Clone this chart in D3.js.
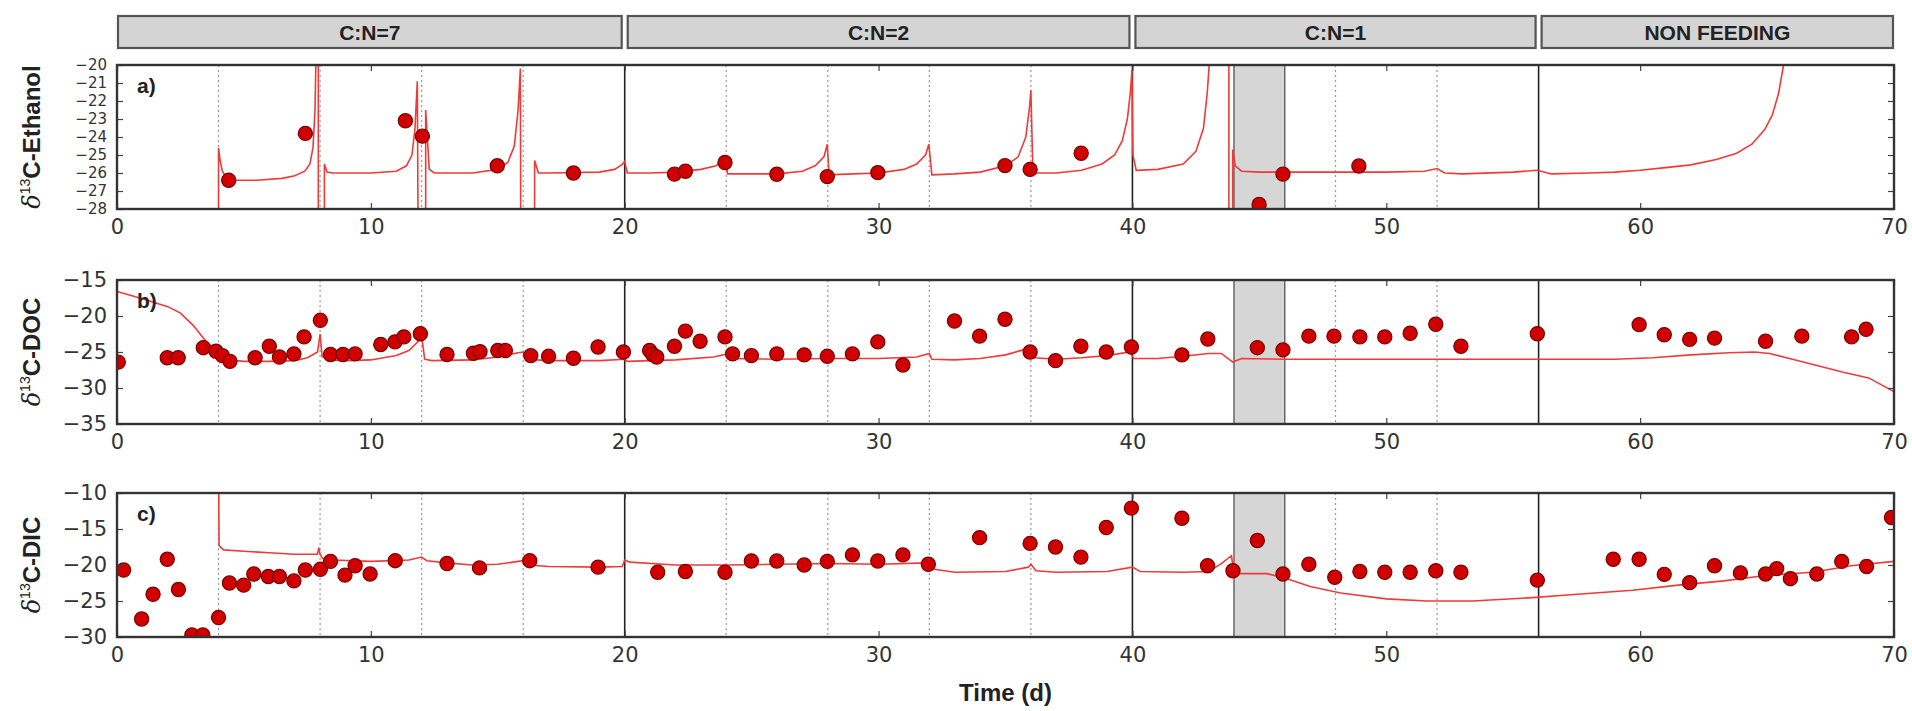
<!DOCTYPE html>
<html><head><meta charset="utf-8">
<script src="https://cdn.jsdelivr.net/npm/d3@7"></script>
<style>body{margin:0;background:#fff}</style>
</head><body><svg id="chart" width="1912" height="711"></svg>
<script>
// ---------------- data ----------------
const xTicks = [0, 10, 20, 30, 40, 50, 60, 70];
const phaseNames = ["C:N=7", "C:N=2", "C:N=1", "NON FEEDING"];
const phaseStarts = [0, 20, 40, 56];
const phaseEnds = [20, 40, 56, 70];
const phaseDividers = [20, 40, 56];
const feedingDays = [4, 8, 12, 16, 24, 28, 32, 36, 48, 52];
const shadeSpan = [44, 46];

const ethanolTicks = [-20, -21, -22, -23, -24, -25, -26, -27, -28];
const docTicks = [-15, -20, -25, -30, -35];
const dicTicks = [-10, -15, -20, -25, -30];

const ethanolObs = [[4.4,-26.4],[7.42,-23.8],[11.36,-23.1],[12.03,-23.95],[14.98,-25.6],[17.98,-26.0],
  [21.96,-26.06],[22.39,-25.9],[23.95,-25.42],[25.99,-26.07],[27.98,-26.2],[29.97,-25.98],[34.98,-25.59],
  [35.97,-25.8],[37.98,-24.9],[44.99,-27.75],[45.93,-26.06],[48.92,-25.61]];

const docObs = [[0.05,-26.4],[1.98,-25.8],[2.41,-25.8],[3.4,-24.4],[3.9,-24.9],[4.15,-25.5],[4.45,-26.3],
  [5.44,-25.8],[6.0,-24.2],[6.4,-25.7],[6.97,-25.26],[7.37,-22.9],[8.01,-20.6],[8.41,-25.35],[8.9,-25.35],
  [9.38,-25.26],[10.39,-23.95],[10.95,-23.6],[11.3,-22.9],[11.95,-22.46],[13.0,-25.35],[14.04,-25.17],
  [14.3,-24.95],[15.0,-24.8],[15.3,-24.8],[16.3,-25.5],[17.0,-25.6],[17.98,-25.86],[18.95,-24.3],[19.95,-25.0],
  [20.98,-24.8],[21.1,-25.35],[21.26,-25.7],[21.96,-24.2],[22.39,-22.1],[22.97,-23.5],[23.95,-22.9],
  [24.25,-25.26],[24.99,-25.5],[25.99,-25.26],[27.07,-25.4],[27.98,-25.6],[28.97,-25.26],[29.97,-23.6],
  [30.96,-26.8],[32.99,-20.7],[33.98,-22.8],[34.98,-20.45],[35.97,-25.0],[36.97,-26.2],[37.97,-24.2],
  [38.97,-25.0],[39.96,-24.3],[41.95,-25.4],[42.97,-23.2],[44.92,-24.4],[45.93,-24.7],[46.95,-22.8],
  [47.94,-22.8],[48.96,-22.9],[49.94,-22.9],[50.94,-22.4],[51.95,-21.15],[52.94,-24.2],[55.95,-22.46],
  [59.96,-21.2],[60.95,-22.6],[61.95,-23.25],[62.93,-23.07],[64.94,-23.5],[66.37,-22.8],[68.33,-22.9],
  [68.9,-21.85]];

const dicObs = [[0.26,-20.7],[0.97,-27.5],[1.42,-24.07],[1.98,-19.2],[2.42,-23.4],[2.95,-29.7],[3.38,-29.7],
  [4.0,-27.3],[4.43,-22.5],[4.99,-22.8],[5.39,-21.25],[5.96,-21.6],[6.4,-21.6],[6.97,-22.2],[7.42,-20.7],
  [8.01,-20.6],[8.41,-19.5],[8.98,-21.4],[9.38,-20.1],[9.97,-21.25],[10.96,-19.4],[13.0,-19.8],[14.28,-20.4],
  [16.26,-19.4],[18.95,-20.3],[21.3,-21.0],[22.39,-20.9],[23.95,-21.0],[24.99,-19.44],[25.99,-19.44],
  [27.07,-20.0],[27.98,-19.5],[28.97,-18.6],[29.97,-19.44],[30.96,-18.6],[31.96,-19.9],[33.98,-16.2],
  [35.97,-17.0],[36.97,-17.5],[37.97,-18.9],[38.97,-14.8],[39.96,-12.1],[41.95,-13.5],[42.96,-20.1],
  [43.96,-20.8],[44.92,-16.6],[45.93,-21.25],[46.95,-19.9],[47.97,-21.7],[48.96,-20.9],[49.94,-21.0],
  [50.94,-21.0],[51.95,-20.8],[52.94,-21.0],[55.95,-22.1],[58.94,-19.2],[59.96,-19.2],[60.95,-21.3],
  [61.95,-22.45],[62.93,-20.1],[63.95,-21.1],[64.94,-21.25],[65.38,-20.5],[65.92,-21.9],[66.96,-21.25],
  [67.94,-19.5],[68.92,-20.2],[69.9,-13.4]];

const ethanolModel = [[4.0,-40],[4.0,-24.6],[4.05,-25.2],[4.15,-25.9],[4.3,-26.25],[4.6,-26.4],[5.5,-26.4],
  [6.5,-26.3],[7.0,-26.15],[7.4,-25.9],[7.6,-25.5],[7.72,-24.6],[7.8,-22.5],[7.86,-18],[7.93,-12],[7.93,-40],
  [8.17,-40],[8.17,-25.5],[8.27,-25.95],[8.5,-26.0],[10,-26.0],[11,-25.9],[11.4,-25.6],[11.62,-25.0],
  [11.74,-23.5],[11.83,-20.9],[11.9,-40],[12.16,-40],[12.16,-22.5],[12.3,-25.8],[12.5,-26.0],[14.0,-26.0],
  [15.0,-25.8],[15.4,-25.4],[15.65,-24.5],[15.8,-22.5],[15.89,-20.2],[15.92,-40],[16.45,-40],[16.45,-25.3],
  [16.6,-26.0],[17,-26.0],[19,-25.95],[19.6,-25.8],[19.88,-25.55],[20.0,-25.35],[20.1,-26.0],[21,-26.0],
  [22,-25.95],[23,-25.8],[23.6,-25.6],[23.97,-25.1],[24.05,-26.05],[25,-26.05],[26,-26.05],[27,-25.9],
  [27.5,-25.6],[27.85,-25.1],[27.98,-24.4],[28.05,-26.1],[29,-26.05],[30,-26.0],[31,-25.8],[31.5,-25.5],
  [31.85,-25.0],[31.98,-24.4],[32.1,-26.1],[33,-26.05],[34,-25.95],[35,-25.6],[35.5,-25.1],[35.8,-24.0],
  [35.95,-22.3],[36.0,-21.4],[36.08,-26.0],[37,-26.0],[38,-25.85],[38.8,-25.5],[39.3,-25.0],[39.6,-24.2],
  [39.8,-23.0],[39.92,-21.5],[39.98,-20.3],[40.02,-25.0],[40.15,-25.85],[41,-25.8],[42,-25.5],[42.5,-24.8],
  [42.8,-23.5],[42.95,-21.5],[43.05,-19.5],[43.1,-12],[43.8,-12],[43.8,-40],[43.95,-40],[43.95,-24.7],
  [44.05,-25.6],[44.3,-25.9],[45,-25.95],[46,-25.95],[48,-25.95],[50,-25.95],[51.5,-25.9],[52,-25.75],
  [52.3,-26.0],[53,-26.05],[55,-25.95],[55.95,-25.85],[56.1,-25.9],[56.5,-26.05],[58,-26.0],[59,-25.95],
  [60,-25.85],[61,-25.7],[62,-25.55],[63,-25.25],[63.8,-24.9],[64.4,-24.4],[64.9,-23.6],[65.2,-22.8],
  [65.45,-21.6],[65.65,-20],[65.8,-19]];

const docModel = [[0,-16.6],[1,-17.6],[2,-18.7],[2.5,-19.6],[3,-21.3],[3.5,-23.5],[4,-25.2],[4.5,-26.1],
  [5,-26.3],[6,-26.3],[7,-26.2],[7.5,-25.8],[7.9,-25.0],[8.0,-22.5],[8.08,-25.6],[8.3,-26.1],[9,-26.2],
  [10,-26.1],[11,-25.5],[11.5,-24.8],[11.9,-23.4],[12.0,-22.8],[12.12,-26.0],[12.4,-26.2],[14,-26.1],
  [15,-25.7],[15.8,-25.1],[16.0,-25.0],[16.15,-26.0],[17,-26.2],[19,-26.2],[20,-26.0],[20.1,-26.3],
  [22,-26.1],[23.5,-25.7],[24.0,-25.3],[24.1,-25.9],[26,-26.0],[28,-25.9],[30,-25.9],[31.5,-25.7],
  [32.0,-25.2],[32.1,-26.0],[33,-26.1],[34,-25.9],[35,-25.4],[35.8,-24.6],[36.0,-24.3],[36.15,-25.8],
  [37,-26.0],[38,-25.8],[39,-25.5],[39.9,-25.0],[40.05,-25.9],[41,-25.9],[42,-25.6],[43,-25.2],[43.5,-25.2],
  [43.95,-26.4],[44.3,-25.9],[46,-26.0],[50,-26.0],[55,-26.0],[59,-26.0],[60.5,-25.8],[62,-25.4],
  [63.5,-25.1],[64.5,-25.0],[65.1,-25.2],[66,-26.0],[67,-26.9],[68,-27.8],[69,-28.6],[70,-30.5]];

const dicModel = [[4.0,-5],[4.02,-17.3],[4.2,-17.9],[5,-18.1],[6,-18.3],[7,-18.5],[7.9,-18.5],[7.95,-17.6],
  [8.0,-18.5],[8.1,-19.1],[8.5,-19.3],[10,-19.5],[11.5,-19.3],[12,-18.9],[12.2,-19.4],[13,-19.7],[14,-20.0],
  [15,-19.9],[16,-19.4],[16.2,-20.0],[17,-20.2],[19,-20.3],[19.9,-20.2],[20.0,-19.3],[20.2,-19.6],[22,-20.0],
  [24,-20.0],[26,-19.9],[28,-19.8],[30,-19.9],[31.9,-19.7],[32.2,-20.6],[33,-21.0],[35,-20.9],[35.9,-20.3],
  [36.0,-19.9],[36.2,-20.8],[37,-21.0],[39,-20.9],[40,-20.3],[40.3,-20.9],[42,-21.0],[43,-20.9],[43.5,-19.8],
  [43.9,-18.7],[44.0,-21.2],[45.3,-21.2],[46,-21.8],[47,-23.0],[48.2,-23.9],[50,-24.7],[51.6,-25.0],
  [53.4,-25.0],[55.9,-24.5],[57,-24.2],[59.7,-23.5],[61.5,-22.8],[63.3,-22.2],[65.1,-21.4],[66.8,-21.0],
  [68.3,-20.1],[70,-19.5]];

const panelLetters = ["a)", "b)", "c)"];
const panelTitles = ["C-Ethanol", "C-DOC", "C-DIC"];

// ---------------- drawing ----------------
const svg = d3.select("#chart");
const left = 117, right = 1894;
const tops = [65, 280, 493], ph = 144;
const x = d3.scaleLinear().domain([0, 70]).range([left, right]);

const panels = [
  {domain: [-28, -20], ticks: ethanolTicks, obs: ethanolObs, model: ethanolModel, tickFont: 15},
  {domain: [-35, -15], ticks: docTicks, obs: docObs, model: docModel, tickFont: 21},
  {domain: [-30, -10], ticks: dicTicks, obs: dicObs, model: dicModel, tickFont: 21}
];

const fmt = d => (d < 0 ? "\u2212" + Math.abs(d) : String(d));

// header boxes
phaseNames.forEach((name, i) => {
  const x0 = x(phaseStarts[i]) + (i === 0 ? 1 : 3);
  const x1 = x(phaseEnds[i]) - (i === phaseNames.length - 1 ? 1 : 3);
  svg.append("rect").attr("x", x0).attr("y", 16).attr("width", x1 - x0).attr("height", 32)
    .attr("fill", "#d4d4d4").attr("stroke", "#555").attr("stroke-width", 2.2);
  svg.append("text").attr("x", (x0 + x1) / 2).attr("y", 39.5).attr("text-anchor", "middle")
    .attr("font-family", "Liberation Sans, Arial, sans-serif").attr("font-weight", "bold")
    .attr("font-size", 21).attr("fill", "#222").text(name);
});

panels.forEach((p, i) => {
  const top = tops[i], bottom = top + ph;
  const y = d3.scaleLinear().domain(p.domain).range([bottom, top]);
  const g = svg.append("g");
  const clipId = "clip" + i;
  svg.append("clipPath").attr("id", clipId).append("rect")
    .attr("x", left).attr("y", top).attr("width", right - left).attr("height", ph);

  // shaded span
  g.append("rect").attr("x", x(shadeSpan[0])).attr("y", top)
    .attr("width", x(shadeSpan[1]) - x(shadeSpan[0])).attr("height", ph).attr("fill", "#d6d6d6");
  shadeSpan.forEach(d => g.append("line").attr("x1", x(d)).attr("x2", x(d)).attr("y1", top).attr("y2", bottom)
    .attr("stroke", "#666").attr("stroke-width", 1.5));

  // dotted feeding lines
  g.selectAll(".feed").data(feedingDays).enter().append("line")
    .attr("x1", d => x(d)).attr("x2", d => x(d)).attr("y1", top).attr("y2", bottom)
    .attr("stroke", "#9a9a9a").attr("stroke-width", 1.2).attr("stroke-dasharray", "2,3");

  // phase dividers
  g.selectAll(".div").data(phaseDividers).enter().append("line")
    .attr("x1", d => x(d)).attr("x2", d => x(d)).attr("y1", top).attr("y2", bottom)
    .attr("stroke", "#222").attr("stroke-width", 1.6);

  // model line
  const line = d3.line().x(d => x(d[0])).y(d => y(d[1]));
  g.append("path").datum(p.model).attr("d", line).attr("clip-path", `url(#${clipId})`)
    .attr("fill", "none").attr("stroke", "#f03a3a").attr("stroke-width", 1.6);

  // observations
  g.append("g").attr("clip-path", `url(#${clipId})`).selectAll("circle").data(p.obs).enter().append("circle")
    .attr("cx", d => x(d[0])).attr("cy", d => y(d[1])).attr("r", 7.1)
    .attr("fill", "#d10000").attr("stroke", "#7a0000").attr("stroke-width", 1.2);

  // axes (ticks inside, all four sides)
  const tickLen = 6;
  const axB = d3.axisBottom(x).tickValues(xTicks).tickSize(-tickLen).tickPadding(10).tickFormat(fmt);
  const axT = d3.axisTop(x).tickValues(xTicks).tickSize(-tickLen).tickFormat("");
  const axL = d3.axisLeft(y).tickValues(p.ticks).tickSize(-tickLen).tickPadding(10).tickFormat(fmt);
  const axR = d3.axisRight(y).tickValues(p.ticks).tickSize(-tickLen).tickFormat("");
  const styleAx = (sel, fs) => {
    sel.select(".domain").remove();
    sel.selectAll(".tick line").attr("stroke", "#444").attr("stroke-width", 1.2);
    sel.selectAll("text").attr("font-family", "DejaVu Sans, sans-serif").attr("font-size", fs).attr("fill", "#333");
  };
  svg.append("g").attr("transform", `translate(0,${bottom})`).call(axB).call(styleAx, 21);
  svg.append("g").attr("transform", `translate(0,${top})`).call(axT).call(styleAx, 21);
  svg.append("g").attr("transform", `translate(${left},0)`).call(axL).call(styleAx, p.tickFont);
  svg.append("g").attr("transform", `translate(${right},0)`).call(axR).call(styleAx, 21);

  // frame
  svg.append("rect").attr("x", left).attr("y", top).attr("width", right - left).attr("height", ph)
    .attr("fill", "none").attr("stroke", "#333").attr("stroke-width", 2.4);

  // panel letter
  svg.append("text").attr("x", left + 20).attr("y", top + 28)
    .attr("font-family", "Liberation Sans, Arial, sans-serif").attr("font-weight", "bold")
    .attr("font-size", 21).attr("fill", "#222").text(panelLetters[i]);

  // y title
  const t = svg.append("text").attr("transform", `translate(40,${top + ph / 2}) rotate(-90)`)
    .attr("text-anchor", "middle").attr("font-family", "Liberation Sans, Arial, sans-serif")
    .attr("font-size", 24).attr("fill", "#222");
  t.append("tspan").attr("font-family", "DejaVu Serif, serif").attr("font-style", "italic").text("\u03b4");
  t.append("tspan").attr("font-size", 14).attr("dy", -10).text("13");
  t.append("tspan").attr("dy", 10).attr("font-weight", "bold").text(panelTitles[i]);
});

svg.append("text").attr("x", (left + right) / 2).attr("y", 701).attr("text-anchor", "middle")
  .attr("font-family", "Liberation Sans, Arial, sans-serif").attr("font-weight", "bold")
  .attr("font-size", 24).attr("fill", "#222").text("Time (d)");
</script>
</body></html>
